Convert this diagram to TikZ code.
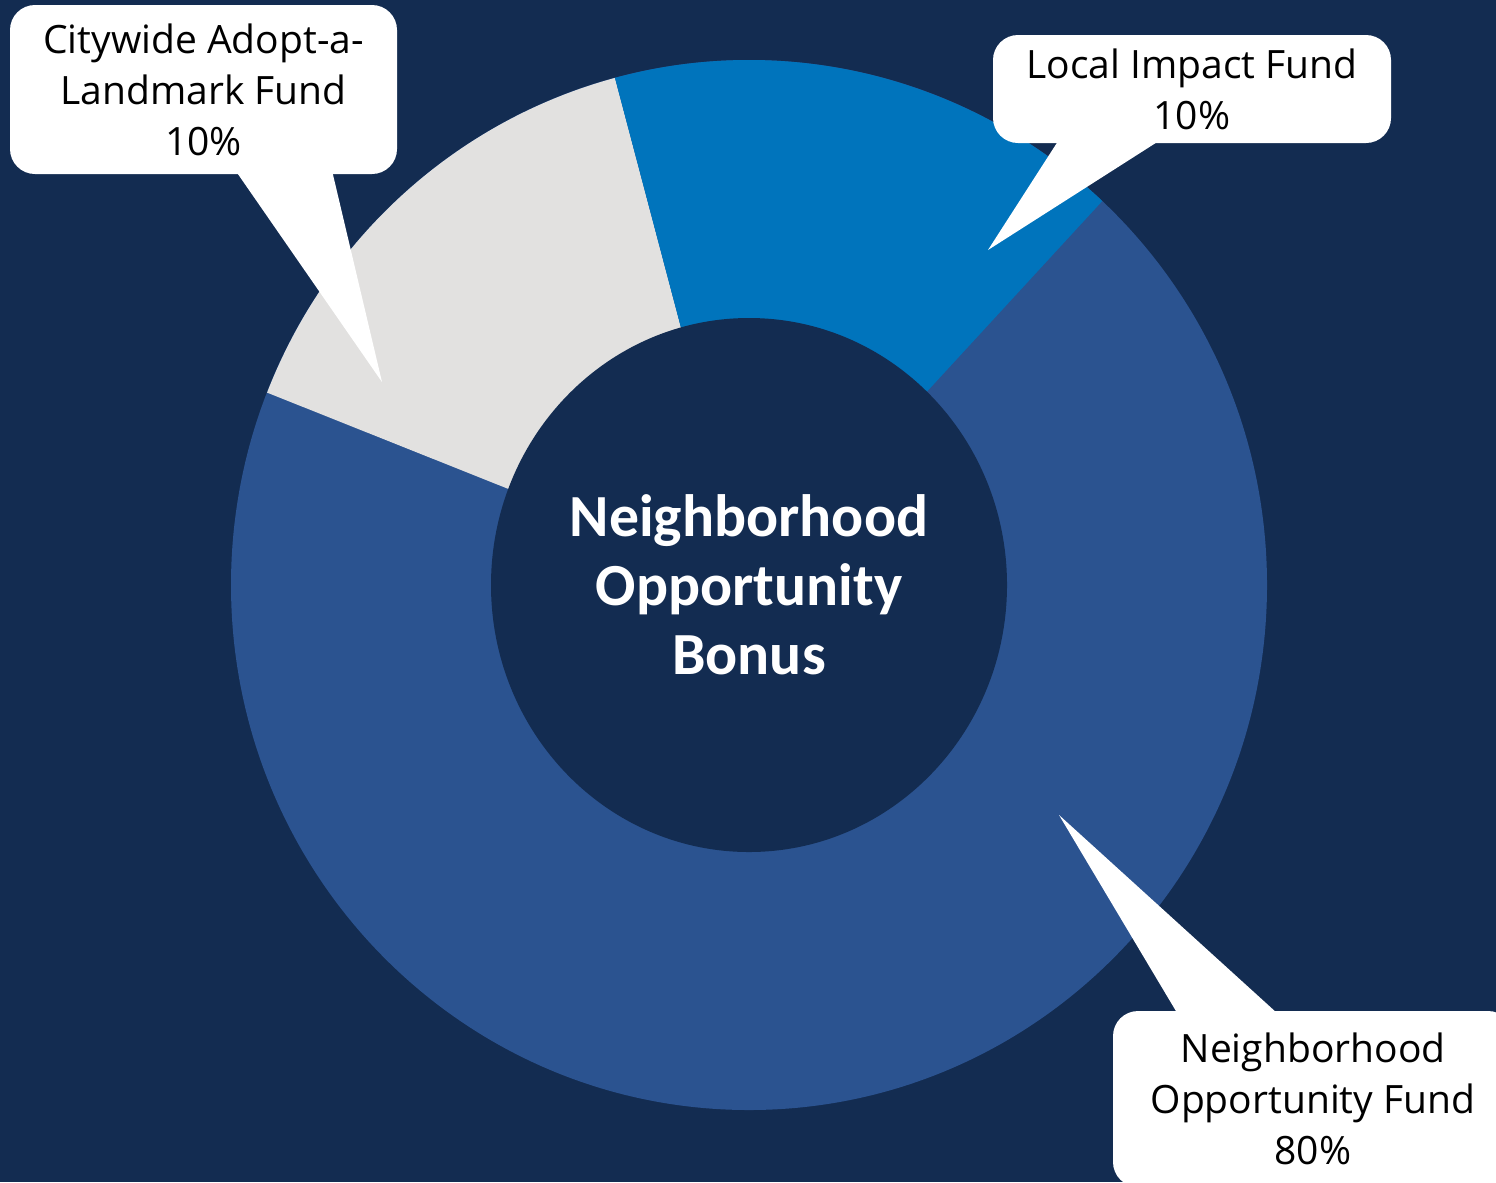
\documentclass[tikz,border=0pt]{standalone}
\usepackage{fontspec}
\setmainfont{Open Sans}
\newfontfamily\bonusfont{Carlito}
\usepackage{tikz}
\tikzset{>=latex}
\definecolor{clbg}{RGB}{19,44,81}
\definecolor{clnof}{RGB}{43,83,144}
\definecolor{cllif}{RGB}{0,116,188}
\definecolor{clcal}{RGB}{226,225,224}
\tikzset{
    callbox/.style={fill=white, rounded corners=0.25cm, align=center, inner sep=0pt,
        font=\fontsize{11.1}{14.5}\selectfont},
    bonustext/.style={text=white, align=center, font=\bonusfont\bfseries\fontsize{17}{19.6}\selectfont}
}

\begin{document}
\begin{tikzpicture}
    \useasboundingbox(0, 0) rectangle (14.96, 11.82);
    \clip(0, 0) rectangle (14.96, 11.82);
    \fill[clbg](0, 0) rectangle (14.96, 11.82);
    \coordinate (ctr) at (7.49, 5.97);
    % ring
    \fill[clnof](ctr) ellipse [x radius=5.18, y radius=5.25];
    \fill[clcal](ctr)--([shift={(105:5.18 and 5.25)}]ctr)
        arc[start angle=105, end angle=158.5, x radius=5.18, y radius=5.25]--cycle;
    \fill[cllif](ctr)--([shift={(47:5.18 and 5.25)}]ctr)
        arc[start angle=47, end angle=105, x radius=5.18, y radius=5.25]--cycle;
    \fill[clbg](ctr) ellipse [x radius=2.58, y radius=2.67];
    \node[bonustext] (bonus) at (ctr) {Neighborhood\\Opportunity\\Bonus};
    % callouts
    \node[callbox, minimum width=3.87cm, minimum height=1.69cm] (cityfund) at (2.035, 10.925)
        {Citywide Adopt-a-\\Landmark Fund\\10\%};
    \node[callbox, minimum width=3.98cm, minimum height=1.08cm] (localfund) at (11.92, 10.93)
        {Local Impact Fund\\10\%};
    \node[callbox, minimum width=4.0cm, minimum height=1.76cm] (nofund) at (13.13, 0.83)
        {Neighborhood\\Opportunity Fund\\80\%};
    \coordinate (citytip) at (3.82, 8.00);
    \coordinate (localtip) at (9.88, 9.32);
    \coordinate (noftip) at (10.59, 3.67);
    \fill[white]([shift={(2.27, 0.03)}]cityfund.south west)--([shift={(3.23, 0.03)}]cityfund.south west)--(citytip)--cycle;
    \fill[white]([shift={(0.66, 0.03)}]localfund.south west)--([shift={(1.67, 0.03)}]localfund.south west)--(localtip)--cycle;
    \fill[white]([shift={(0.65, -0.03)}]nofund.north west)--([shift={(1.65, -0.03)}]nofund.north west)--(noftip)--cycle;
\end{tikzpicture}
\end{document}
